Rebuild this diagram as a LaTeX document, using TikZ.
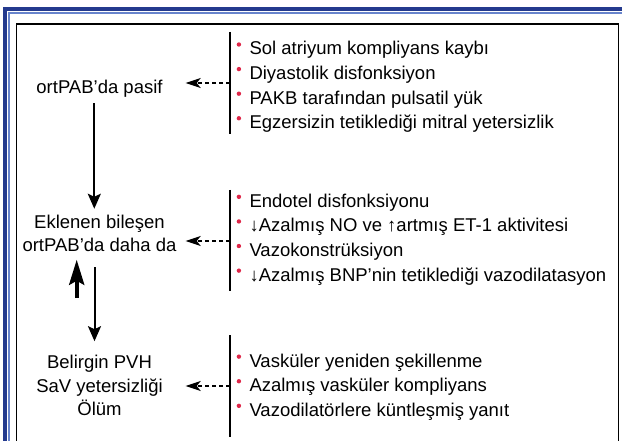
\documentclass[tikz,border=0pt]{standalone}
\usepackage{fontspec}
\setmainfont{Liberation Sans}
\usepackage{tikz}
\usetikzlibrary{arrows.meta,positioning,calc}
\definecolor{frameblue}{RGB}{36,58,142}
\definecolor{lightblue}{RGB}{104,132,204}
\definecolor{bulred}{RGB}{222,38,72}
\newcommand{\bul}{\makebox[12.8pt][l]{\raisebox{8.2pt}[0pt][0pt]{\tikz\fill[bulred] (0,0) circle (2.2pt);}}}
\tikzstyle{cause}=[inner sep=0pt,minimum width=166pt,align=center,font=\fontsize{18.5}{23.5}\selectfont]
\tikzstyle{effects}=[inner sep=0pt,anchor=west,align=left,font=\fontsize{18.5}{24.6}\selectfont]
\tikzstyle{bracket}=[line width=2.3pt]
\tikzstyle{feeds}=[dash pattern=on 4pt off 3pt,line width=1.4pt,-{Stealth[length=15pt,width=10pt,inset=4pt]},shorten >=3pt]
\tikzstyle{leads}=[line width=2pt,-{Stealth[length=15pt,width=13pt,inset=3pt]}]
\tikzstyle{back}=[line width=4pt,-{Stealth[length=25pt,width=15pt,inset=4pt]}]

\begin{document}
\begin{tikzpicture}[x=1pt,y=-1pt]
\useasboundingbox (0,0) rectangle (622,441);
% frame
\draw[frameblue,line width=3.6pt] (4.8,445) -- (4.8,9) -- (630,9);
\draw[lightblue,line width=1.8pt] (9,445) -- (9,13.2) -- (630,13.2);
\draw[line width=1.3pt] (16.7,460) -- (16.7,24) -- (618.7,24) -- (618.7,460);

% stages
\node[cause] (pasif) at (99.5,88.4) {ortPAB’da pasif};
\node[cause] (eklenen) at (99.5,233.5) {Eklenen bileşen\\ortPAB’da daha da};
\node[cause] (belirgin) at (99.5,385.7) {Belirgin PVH\\SaV yetersizliği\\Ölüm};

% mechanisms
\coordinate (b1top) at (230,32);
\coordinate (b1bot) at (230,134);
\coordinate (b1mid) at (230,83);
\coordinate (b2top) at (230,190);
\coordinate (b2bot) at (230,291);
\coordinate (b2mid) at (230,241);
\coordinate (b3top) at (230,335);
\coordinate (b3bot) at (230,437);
\coordinate (b3mid) at (230,386);
\node[effects] (mech1) at (236.5,87) {\bul Sol atriyum kompliyans kaybı\\
  \bul Diyastolik disfonksiyon\\
  \bul PAKB tarafından pulsatil yük\\
  \bul Egzersizin tetiklediği mitral yetersizlik};
\node[effects] (mech2) at (236.5,239.4) {\bul Endotel disfonksiyonu\\
  \bul ↓Azalmış NO ve ↑artmış ET-1 aktivitesi\\
  \bul Vazokonstrüksiyon\\
  \bul ↓Azalmış BNP’nin tetiklediği vazodilatasyon};
\node[effects] (mech3) at (236.5,386.9) {\bul Vasküler yeniden şekillenme\\
  \bul Azalmış vasküler kompliyans\\
  \bul Vazodilatörlere küntleşmiş yanıt};
\draw[bracket] (b1top) -- (b1bot);
\draw[bracket] (b2top) -- (b2bot);
\draw[bracket] (b3top) -- (b3bot);

% connectors
\draw[feeds] (b1mid) -- (b1mid -| pasif.east);
\draw[feeds] (b2mid) -- (b2mid -| eklenen.east);
\draw[feeds] (b3mid) -- (b3mid -| belirgin.east);
\draw[leads,shorten <=6pt,shorten >=6pt] ([xshift=-5.2pt]pasif.south) -- ([xshift=-5.2pt]eklenen.north);
\draw[leads,shorten <=15pt,shorten >=14pt] ([xshift=-5pt]eklenen.south) -- ([xshift=-5pt]belirgin.north);
\draw[back,shorten <=57pt,shorten >=7.5pt] ([xshift=-22.8pt]belirgin.north) -- ([xshift=-22.8pt]eklenen.south);
\end{tikzpicture}
\end{document}
